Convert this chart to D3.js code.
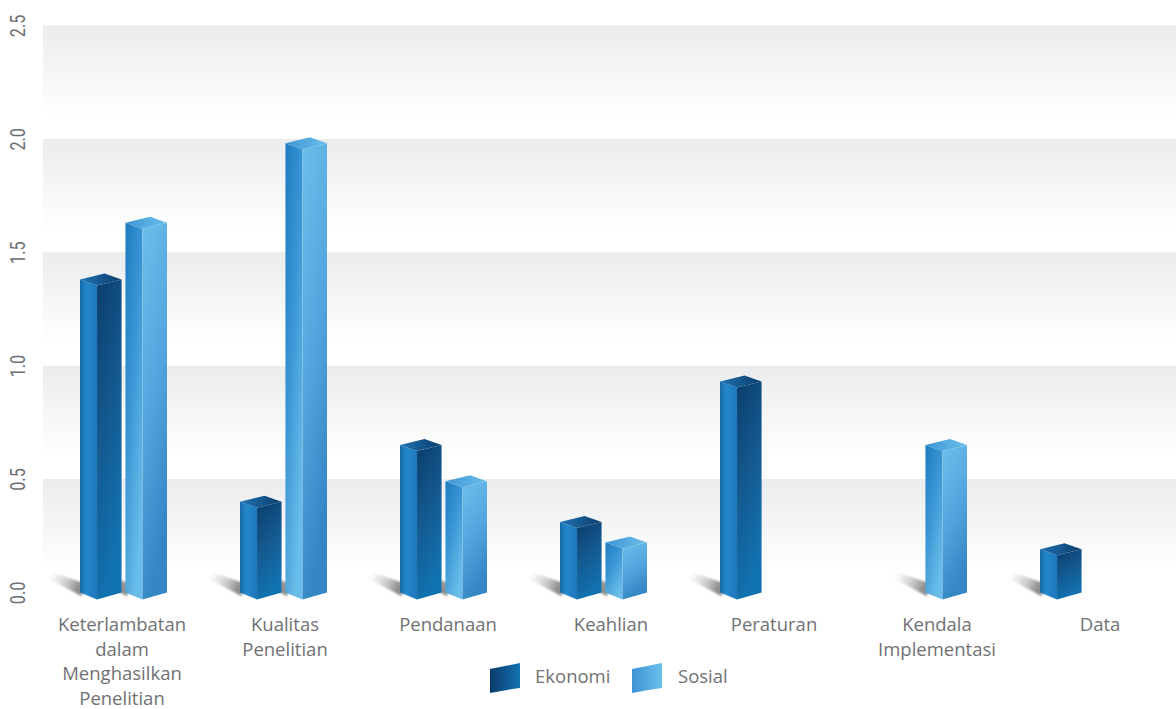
<!DOCTYPE html>
<html>
<head>
<meta charset="utf-8">
<script src="https://cdn.jsdelivr.net/npm/d3@7/dist/d3.min.js"></script>
<style>
  html, body { margin: 0; padding: 0; background: #ffffff; }
  svg { display: block; }
</style>
</head>
<body>
<svg id="chart" width="1176" height="709"></svg>
<script>
// Categories, with the line breaks used for their axis labels
const categories = ["Keterlambatan dalam Menghasilkan Penelitian", "Kualitas Penelitian", "Pendanaan",
                    "Keahlian", "Peraturan", "Kendala Implementasi", "Data"];
const categoryLines = [["Keterlambatan", "dalam", "Menghasilkan", "Penelitian"], ["Kualitas", "Penelitian"],
                       ["Pendanaan"], ["Keahlian"], ["Peraturan"], ["Kendala", "Implementasi"], ["Data"]];
const series = ["Ekonomi", "Sosial"];
const ekonomi = [1.38, 0.40, 0.65, 0.31, 0.93, null, 0.19];
const sosial  = [1.63, 1.98, 0.49, 0.22, null, 0.65, null];
const yTicks = [0, 0.5, 1.0, 1.5, 2.0, 2.5];

const W = 1176, H = 709;
const svg = d3.select("#chart");
const defs = svg.append("defs");

const y = d3.scaleLinear().domain([0, 2.5]).range([592.4, 25.4]);
const x = d3.scaleBand().domain(categories).range([43.5, 1163.5]).padding(0);
const xs = d3.scaleBand().domain(series).range([36.5, 123.5]).paddingInner(0.085);
// category captions are spread evenly across the labelled width
const xLabel = d3.scalePoint().domain(categories).range([122, 1100]);

// ---- gradients ----
function linGrad(id, x1, y1, x2, y2, stops) {
  const g = defs.append("linearGradient").attr("id", id)
    .attr("x1", x1).attr("y1", y1).attr("x2", x2).attr("y2", y2);
  stops.forEach(s => g.append("stop").attr("offset", s[0]).attr("stop-color", s[1])
    .attr("stop-opacity", s[2] == null ? 1 : s[2]));
}
linGrad("band", 0, 0, 0, 1, [[0, "#ebeced"], [0.35, "#f3f4f5"], [0.8, "#ffffff"], [1, "#ffffff"]]);
linGrad("shadow", 0, 0, 1, 0.4, [[0, "#ffffff", 0], [0.45, "#c4c4c4", 0.5], [1, "#7a7a7a", 0.85]]);
defs.append("filter").attr("id", "soft").attr("x", "-20%").attr("y", "-40%").attr("width", "140%").attr("height", "180%")
  .append("feGaussianBlur").attr("stdDeviation", 1.3);

const palette = {
  Ekonomi: {
    left:  [[0, "#1668a6"], [0.35, "#2587c9"], [1, "#1a79bc"]],
    right: [[0, "#0b3d6c"], [0.5, "#14598f"], [1, "#1172b0"]],
    top:   [[0, "#1f72b2"], [1, "#0c3d6c"]],
    swatch:[[0, "#0b3a6a"], [1, "#1272b2"]]
  },
  Sosial: {
    left:  [[0, "#1e7cc0"], [0.5, "#3b97d5"], [1, "#6bbde9"]],
    right: [[0, "#6cbfea"], [0.5, "#55a8df"], [1, "#3486c5"]],
    top:   [[0, "#3d95d4"], [1, "#6cbfea"]],
    swatch:[[0, "#3c93d3"], [1, "#6cc0ea"]]
  }
};
series.forEach(s => {
  linGrad("left-" + s, 0, 0, s === "Sosial" ? 0.6 : 1, s === "Sosial" ? 1 : 0, palette[s].left);
  linGrad("right-" + s, 0, 0, 0.3, 1, palette[s].right);
  linGrad("top-" + s, 0, 0, 1, 0, palette[s].top);
  linGrad("sw-" + s, 0, 0, 1, 0, palette[s].swatch);
});

// ---- background bands ----
const bandTicks = yTicks.slice(1);
svg.append("g").selectAll("rect").data(bandTicks).join("rect")
  .attr("x", 43).attr("width", W - 43)
  .attr("y", d => y(d))
  .attr("height", d => y(d - 0.5) - y(d))
  .attr("fill", "url(#band)");

// ---- y axis (rotated tick labels) ----
const yAxis = svg.append("g")
  .attr("transform", "translate(25,0)")
  .call(d3.axisLeft(y).tickValues(yTicks).tickFormat(d3.format(".1f")).tickSize(0).tickPadding(0));
yAxis.select(".domain").remove();
yAxis.selectAll("text")
  .attr("x", null).attr("dy", null)
  .attr("transform", "rotate(-90)")
  .attr("text-anchor", "middle")
  .attr("font-family", "Roboto, 'Liberation Sans Narrow', sans-serif")
  .attr("font-size", 21)
  .attr("textLength", 22.5)
  .attr("lengthAdjust", "spacingAndGlyphs")
  .attr("fill", "#6d6e71");

// ---- bars ----
const rows = [];
categories.forEach((c, i) => {
  [[series[0], ekonomi[i]], [series[1], sosial[i]]].forEach(([s, v]) => {
    if (v != null) rows.push({ cat: c, s, v });
  });
});

const base = y(0);
const geom = d => {
  const xL = x(d.cat) + xs(d.s);
  const w = xs.bandwidth();
  return { xL, xR: xL + w, xM: xL + w * 0.41, xB: xL + w * 0.59, yT: y(d.v) };
};

// cast shadows sit behind every bar
svg.append("g").attr("filter", "url(#soft)").selectAll("polygon").data(rows).join("polygon")
  .attr("points", d => {
    const { xL } = geom(d);
    return [[xL - 33, base - 22], [xL + 2, base - 10], [xL + 2, base + 4], [xL - 33, base - 15]].join(" ");
  })
  .attr("fill", "url(#shadow)");

const barG = svg.append("g");
rows.forEach(d => {
  const { xL, xR, xM, xB, yT } = geom(d);
  const dTop = 6, dBot = 7;
  const g = barG.append("g");
  g.append("polygon")
    .attr("points", [[xL, yT], [xM, yT + dTop], [xM, base + dBot], [xL, base]].join(" "))
    .attr("fill", `url(#left-${d.s})`);
  g.append("polygon")
    .attr("points", [[xM, yT + dTop], [xR, yT], [xR, base], [xM, base + dBot]].join(" "))
    .attr("fill", `url(#right-${d.s})`);
  g.append("polygon")
    .attr("points", [[xL, yT], [xB, yT - dTop], [xR, yT], [xM, yT + dTop]].join(" "))
    .attr("fill", `url(#top-${d.s})`);
});

// ---- category labels ----
const labelG = svg.append("g")
  .attr("font-family", "'Open Sans', sans-serif")
  .attr("font-size", 18.5)
  .attr("fill", "#717174")
  .attr("text-anchor", "middle");
categories.forEach((c, i) => {
  const cx = xLabel(c);
  const t = labelG.append("text").attr("x", cx).attr("y", 631);
  categoryLines[i].forEach((line, j) => {
    t.append("tspan").attr("x", cx).attr("dy", j === 0 ? 0 : 24.5).text(line);
  });
});

// ---- legend ----
const legend = svg.append("g").attr("transform", "translate(490,663)");
const legendItems = legend.selectAll("g").data(series).join("g")
  .attr("transform", (d, i) => `translate(${i * 142},0)`);
legendItems.append("path")
  .attr("d", "M0,6 Q15,3 30,0 L30,25 Q15,27 0,30 Z")
  .attr("fill", d => `url(#sw-${d})`);
legendItems.append("text")
  .attr("x", d => d === "Ekonomi" ? 45 : 46)
  .attr("y", 20)
  .attr("font-family", "'Open Sans', sans-serif")
  .attr("font-size", 18.5)
  .attr("fill", "#717174")
  .text(d => d);
</script>
</body>
</html>
